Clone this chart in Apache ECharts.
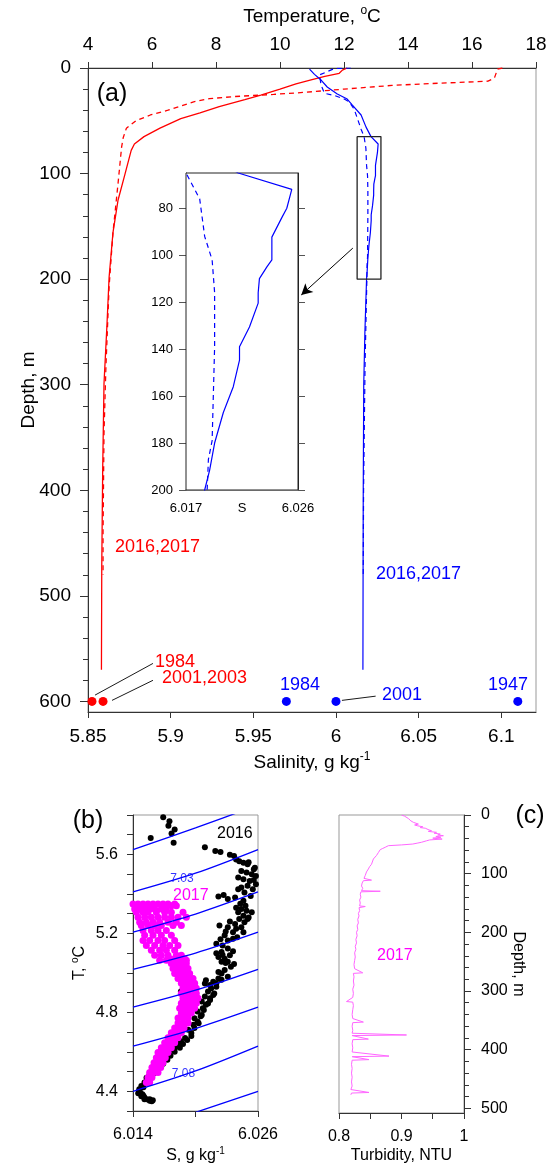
<!DOCTYPE html>
<html><head><meta charset="utf-8">
<script src="https://cdn.jsdelivr.net/npm/echarts@6/dist/echarts.min.js"></script>
<style>html,body{margin:0;padding:0;background:#fff}#c{width:551px;height:1165px}</style>
</head><body><div id="c"></div>
<script>
// ================= DATA =================
// Tick / label values
const tempTicks = [4,6,8,10,12,14,16,18];
const salTicks = [5.85,5.9,5.95,6,6.05,6.1];
const depthMajorA = [0,100,200,300,400,500,600];
const depthMinorA = [0,20,40,60,80,100,120,140,160,180,200,220,240,260,280,300,320,340,360,380,400,420,440,460,480,500,520,540,560,580,600];
const insetDepthTicks = [80,100,120,140,160,180,200];
const insetSLabels = [6.017,6.026];
const tsSTicks = [6.014,6.02,6.026];
const tsSLabels = [6.014,6.026];
const tsTTicks = [4.3,4.4,4.5,4.6,4.7,4.8,4.9,5.0,5.1,5.2,5.3,5.4,5.5,5.6,5.7,5.8];
const tsTLabels = [4.4,4.8,5.2,5.6];
const turbTicks = [0.8,0.85,0.9,0.95,1];
const turbLabels = [0.8,0.9,1];
const depthMajorC = [0,100,200,300,400,500];
const depthMinorC = [0,20,40,60,80,100,120,140,160,180,200,220,240,260,280,300,320,340,360,380,400,420,440,460,480,500];

// Panel (a): temperature profiles [T, depth]
const tempSolid = [[12.1,0],[11.95,2],[11.85,5],[11.4,8],[11.0,11],[10.5,15],[10.0,20],[9.4,25.6],[8.9,30],[8.1,36.5],[7.5,42.6],[6.9,48],[6.25,57],[5.75,65],[5.45,72],[5.35,78],[5.16,100],[4.94,125],[4.78,156],[4.66,198],[4.59,245],[4.5,299],[4.46,378],[4.43,473],[4.42,570]];
const tempDashed = [[16.95,0],[16.8,1],[16.7,9.5],[16.5,12.5],[14.5,15],[13.5,16.5],[12.0,20],[10.8,23],[9.8,25],[8.6,27],[7.8,29],[7.3,32],[6.9,36],[6.5,40],[5.95,44.5],[5.5,50],[5.2,57],[5.1,66],[5.05,75],[4.94,109],[4.78,156],[4.66,207],[4.56,283],[4.5,346],[4.47,441],[4.47,480]];
// Panel (a): salinity profiles [S, depth]
const salSolid = [[5.984,1],[5.987,6],[5.991,11.4],[5.9947,18],[6.0008,24.6],[6.0068,29.4],[6.0098,35],[6.0152,44.5],[6.0182,56],[6.0212,65],[6.0255,72],[6.0251,80],[6.0247,84],[6.0239,92.3],[6.0239,102],[6.0235,105],[6.0229,110],[6.0228,116],[6.0228,120.4],[6.0221,130.6],[6.0213,139],[6.0213,144.7],[6.0208,156],[6.0200,167],[6.0193,180],[6.0189,191.5],[6.0185,200],[6.0175,250],[6.0168,300],[6.0165,400],[6.0164,480],[6.0163,570]];
const salDashed = [[6.009,0],[5.999,0.5],[5.99,6.6],[5.991,16],[5.993,24],[5.999,26],[6.005,29.4],[6.008,32],[6.011,39],[6.013,48],[6.0152,58],[6.017,65],[6.0181,76],[6.0185,92],[6.0191,102],[6.0193,116],[6.0193,139],[6.0192,159],[6.0191,179],[6.0188,187],[6.0187,200],[6.0176,280],[6.0167,400],[6.0165,480]];
// Historical values at 600 m
const tempHist = [[4.125,600],[4.47,600]];
const salHist = [[5.97,600],[6.0,600],[6.11,600]];
// Inset window (S range, depth range)
const insetBox = [[6.0128,65],[6.0272,65],[6.0272,200],[6.0128,200],[6.0128,65]];

// Panel (b): isopycnals [label, [[S,T],...]]
const isoLines = [
 ['7.02',[[6.014,5.625],[6.020,5.735],[6.026,5.85]]],
 ['7.03',[[6.014,5.41],[6.020,5.505],[6.026,5.625]]],
 ['7.04',[[6.014,5.206],[6.020,5.298],[6.026,5.41]]],
 ['7.05',[[6.014,5.018],[6.020,5.10],[6.026,5.206]]],
 ['7.06',[[6.014,4.826],[6.020,4.912],[6.026,5.018]]],
 ['7.07',[[6.014,4.629],[6.020,4.718],[6.026,4.826]]],
 ['7.08',[[6.014,4.40],[6.020,4.503],[6.026,4.629]]],
 ['7.09',[[6.020,4.293],[6.026,4.40]]]
];
const isoLabels = [['7.03',6.0187,5.479],['7.08',6.01885,4.489]];

// Panel (b): T-S points 2016 [S, T]
const ts2016 = [
[6.0169,5.789],[6.0175,5.768],[6.0174,5.746],[6.0180,5.726],[6.0177,5.706],[6.0157,5.684],[6.0179,5.659],
[6.0209,5.637],[6.0219,5.617],[6.0224,5.612],[6.0233,5.598],[6.0237,5.592],[6.0239,5.575],[6.0242,5.566],[6.0246,5.558],[6.0250,5.550],[6.0251,5.560],[6.0257,5.533],[6.0256,5.525],[6.0244,5.516],[6.0249,5.508],[6.0254,5.500],[6.0258,5.491],[6.0241,5.483],[6.0246,5.474],[6.0256,5.470],[6.0252,5.466],[6.0258,5.449],[6.0250,5.441],[6.0244,5.432],[6.0255,5.424],[6.0241,5.424],[6.0247,5.407],[6.0253,5.390],[6.0227,5.394],[6.0222,5.387],[6.0238,5.382],[6.0231,5.374],[6.0246,5.365],[6.0243,5.350],[6.0248,5.340],[6.0239,5.330],[6.0244,5.324],[6.0249,5.315],[6.0241,5.307],[6.0254,5.307],[6.0246,5.290],[6.0251,5.280],[6.0242,5.273],[6.0250,5.273],[6.0233,5.260],[6.0247,5.257],[6.0238,5.248],[6.0223,5.240],[6.0244,5.231],[6.0231,5.231],[6.0239,5.223],[6.0229,5.210],[6.0246,5.206],[6.0236,5.206],[6.0228,5.190],[6.0240,5.180],[6.0236,5.173],[6.0224,5.170],[6.0231,5.164],[6.0220,5.148],[6.0226,5.139],[6.0231,5.123],[6.0236,5.110],[6.0225,5.106],[6.0220,5.100],[6.0226,5.090],[6.0233,5.089],[6.0222,5.081],[6.0228,5.072],[6.0225,5.056],[6.0229,5.050],
[6.0231,5.056],[6.0234,5.031],[6.0237,5.045],[6.0228,5.014],[6.0225,4.997],[6.0222,5.005],[6.0231,4.980],[6.0222,4.972],[6.0225,4.965],[6.0210,4.963],[6.0217,4.955],[6.0214,4.938],[6.0220,4.946],[6.0209,4.946],[6.0220,4.930],[6.0215,4.921],[6.0212,4.905],[6.0186,4.905],[6.0218,4.895],[6.0217,4.888],[6.0209,4.880],[6.0214,4.872],[6.0214,4.863],[6.0206,4.855],[6.0212,4.845],[6.0210,4.838],[6.0207,4.821],[6.0208,4.812],[6.0202,4.804],[6.0206,4.787],[6.0205,4.780],[6.0199,4.770],[6.0202,4.754],[6.0203,4.745],[6.0198,4.737],[6.0199,4.720],[6.0193,4.712],[6.0196,4.695],[6.0196,4.680],[6.0190,4.670],[6.0192,4.660],[6.0186,4.653],[6.0188,4.640],[6.0183,4.636],[6.0185,4.620],[6.0180,4.619],[6.0177,4.611],[6.0180,4.600],[6.0167,4.603],[6.0174,4.594],[6.0176,4.580],[6.0170,4.569],[6.0173,4.560],[6.0167,4.553],[6.0169,4.540],[6.0164,4.536],[6.0166,4.525],[6.0161,4.519],[6.0163,4.505],[6.0159,4.502],[6.0160,4.490],[6.0156,4.486],[6.0157,4.472],[6.0153,4.469],[6.0155,4.455],[6.0151,4.444],[6.0152,4.440],[6.0148,4.427],[6.0150,4.420],[6.0146,4.410],[6.0146,4.400],[6.0147,4.394],[6.0145,4.390],[6.0149,4.385],[6.0148,4.375],[6.0150,4.377],[6.0151,4.369],[6.0153,4.360],[6.0151,4.360],[6.0156,4.360],[6.0156,4.352],[6.0158,4.350],[6.0159,4.355]
];
// Panel (b): T-S points 2017, rows of [T, [S...]]
const ts2017Rows = [
 [5.349,[6.01400,6.01448,6.01496,6.01544,6.01592,6.01640,6.01688,6.01736,6.01800]],
 [5.340,[6.01768,6.01816]],
 [5.324,[6.01416,6.01464,6.01512,6.01560,6.01608,6.01672,6.01720]],
 [5.307,[6.01432,6.01496,6.01544,6.01624,6.01704,6.01768,6.01880]],
 [5.282,[6.01448,6.01512,6.01576,6.01640,6.01704,6.01768,6.01832,6.01912]],
 [5.257,[6.01464,6.01528,6.01592,6.01656,6.01736,6.01816]],
 [5.240,[6.01480,6.01544,6.01608,6.01672,6.01784,6.01864]],
 [5.215,[6.01496,6.01576,6.01640,6.01720]],
 [5.190,[6.01512,6.01592,6.01672,6.01768]],
 [5.164,[6.01496,6.01560,6.01640,6.01704,6.01800]],
 [5.139,[6.01528,6.01608,6.01688,6.01752,6.01832]],
 [5.114,[6.01576,6.01656,6.01720,6.01800]],
 [5.089,[6.01608,6.01672,6.01736,6.01816,6.01864]],
 [5.064,[6.01656,6.01720,6.01784,6.01848,6.01912]],
 [5.072,[6.01752,6.01800,6.01848,6.01896]],
 [5.047,[6.01768,6.01816,6.01864,6.01912]],
 [5.022,[6.01784,6.01832,6.01880,6.01928]],
 [4.997,[6.01800,6.01848,6.01896,6.01944]],
 [4.972,[6.01832,6.01880,6.01928,6.01976]],
 [4.947,[6.01864,6.01912,6.01960,6.01992]],
 [4.922,[6.01880,6.01928,6.01976,6.02008]],
 [4.896,[6.01864,6.01912,6.01960,6.02008]],
 [4.871,[6.01880,6.01928,6.01976,6.02024]],
 [4.846,[6.01864,6.01912,6.01960,6.02008]],
 [4.821,[6.01848,6.01896,6.01944,6.01992]],
 [4.796,[6.01864,6.01912,6.01960]],
 [4.771,[6.01832,6.01880,6.01928]],
 [4.746,[6.01832,6.01880,6.01928]],
 [4.721,[6.01800,6.01848,6.01890]],
 [4.696,[6.01768,6.01816,6.01864]],
 [4.671,[6.01736,6.01784,6.01832]],
 [4.646,[6.01704,6.01752,6.01800]],
 [4.621,[6.01672,6.01720,6.01768]],
 [4.596,[6.01640,6.01688,6.01736]],
 [4.570,[6.01624,6.01672,6.01710]],
 [4.545,[6.01602,6.01646,6.01688]],
 [4.520,[6.01582,6.01624,6.01666]],
 [4.495,[6.01560,6.01602,6.01640]],
 [4.470,[6.01544,6.01582]],
 [4.445,[6.01528,6.01560]]
];

// Panel (c): turbidity profile 2017 [NTU, depth]
const turb2017 = [[0.900,0],[0.897,1],[0.905,2],[0.903,4],[0.911,6],[0.908,8],[0.915,10],[0.912,11],[0.919,12.5],[0.916,14],[0.927,15.5],[0.921,17],[0.926,18.5],[0.934,20],[0.930,21.5],[0.938,22.5],[0.935,24],[0.944,25.5],[0.948,26.7],[0.943,28],[0.956,29.5],[0.952,31],[0.962,32.5],[0.958,34],[0.967,35.3],[0.955,36.5],[0.963,38],[0.950,39.5],[0.965,41],[0.945,42.5],[0.940,44],[0.932,46.5],[0.925,48],[0.918,49.5],[0.900,51],[0.879,52.3],[0.874,55],[0.870,57],[0.866,59],[0.868,61],[0.863,64],[0.864,66],[0.860,69],[0.861,71],[0.855,75],[0.857,78],[0.852,84],[0.849,88],[0.847,92],[0.844,97],[0.842,103],[0.840,108],[0.852,111],[0.839,112],[0.837,116],[0.836,121],[0.838,125],[0.836,129],[0.866,130],[0.835,131],[0.834,135],[0.835,140],[0.833,145],[0.834,150],[0.833,155],[0.842,156],[0.832,158],[0.833,163],[0.831,168],[0.832,172],[0.830,178],[0.831,184],[0.829,189],[0.830,195],[0.828,200],[0.829,206],[0.827,212],[0.828,218],[0.826,224],[0.827,229],[0.825,235],[0.826,242],[0.825,248],[0.824,255],[0.825,262],[0.838,269],[0.823,270],[0.824,276],[0.823,283],[0.824,290],[0.822,297],[0.823,304],[0.822,311],[0.812,318],[0.822,319],[0.823,325],[0.822,332],[0.821,340],[0.822,347],[0.839,353],[0.822,354],[0.821,360],[0.822,367],[0.821,372],[0.908,375],[0.821,376],[0.847,382],[0.822,383],[0.821,390],[0.822,397],[0.821,404],[0.880,411],[0.821,412],[0.848,417],[0.821,418],[0.820,425],[0.821,432],[0.820,440],[0.821,447],[0.820,455],[0.821,462],[0.819,468],[0.848,473],[0.820,474],[0.819,477]];

// ================= CHART =================
const FONT = '"Liberation Sans", Arial, Helvetica, sans-serif';
const AX = '#333';
const RED = '#ff0000', BLUE = '#0000ff', MAG = '#ff00ff';

const ts2017 = [];
ts2017Rows.forEach(r => r[1].forEach(s => ts2017.push([s, r[0]])));

function supRich(size, supSize){
  return { n:{fontSize:size, lineHeight:size+4, color:'#000', fontFamily:FONT},
           sup:{fontSize:supSize, lineHeight:size+4, verticalAlign:'top', color:'#000', fontFamily:FONT} };
}
function vAxis(o){
  return Object.assign({
    type:'value', splitLine:{show:false}, nameMoveOverlap:false,
    axisLine:{show:true, onZero:false, lineStyle:{color:AX, width:1}},
  }, o);
}

const chart = echarts.init(document.getElementById('c'), null, {renderer:'canvas'});

const option = {
  animation:false,
  backgroundColor:'#fff',
  textStyle:{fontFamily:FONT},
  grid:[
    {left:88, top:68, width:448, height:644, show:true, borderColor:'#999', borderWidth:1, backgroundColor:'rgba(0,0,0,0)'},
    {left:186, top:173, width:112, height:317, show:true, borderColor:'#222', borderWidth:1, backgroundColor:'#fff', z:5},
    {left:133, top:815, width:125, height:299, show:true, borderColor:'#999', borderWidth:1},
    {left:339, top:815, width:125, height:299, show:true, borderColor:'#999', borderWidth:1}
  ],
  xAxis:[
    vAxis({gridIndex:0, position:'top', min:4, max:18,
      name:'{n|Temperature, }{sup|o}{n|C}', nameLocation:'middle', nameGap:40,
      nameTextStyle:{rich:supRich(19,12)},
      axisTick:{show:true, length:6, customValues:tempTicks, lineStyle:{color:AX}},
      axisLabel:{fontSize:19, margin:14, color:'#000', customValues:tempTicks}}),
    vAxis({gridIndex:0, position:'bottom', min:5.85, max:6.121,
      name:'{n|Salinity, g kg}{sup|-1}', nameLocation:'middle', nameGap:39,
      nameTextStyle:{rich:supRich(19,12)},
      axisTick:{show:true, length:6, customValues:salTicks, lineStyle:{color:AX}},
      axisLabel:{fontSize:19, margin:15, color:'#000', customValues:salTicks}}),
    vAxis({gridIndex:1, position:'bottom', min:6.017, max:6.026,
      name:'S', nameLocation:'middle', nameGap:12, nameTextStyle:{fontSize:13, color:'#000'},
      axisLine:{show:true, onZero:false, lineStyle:{color:'#999', width:1.5}},
      axisTick:{show:false},
      axisLabel:{fontSize:13, margin:12, color:'#000', customValues:insetSLabels}}),
    vAxis({gridIndex:2, position:'bottom', min:6.014, max:6.026,
      name:'{n|S, g kg}{sup|-1}', nameLocation:'middle', nameGap:35,
      nameTextStyle:{rich:supRich(16,10)},
      axisTick:{show:true, length:6, customValues:tsSTicks, lineStyle:{color:AX}},
      axisLabel:{fontSize:16, margin:16, color:'#000', customValues:tsSLabels}}),
    vAxis({gridIndex:3, position:'bottom', min:0.8, max:1,
      name:'Turbidity, NTU', nameLocation:'middle', nameGap:35, nameTextStyle:{fontSize:16, color:'#000'},
      axisTick:{show:true, length:6, customValues:turbTicks, lineStyle:{color:AX}},
      axisLabel:{fontSize:16, margin:16, color:'#000', customValues:turbLabels}})
  ],
  yAxis:[
    vAxis({gridIndex:0, position:'left', inverse:true, min:0, max:610,
      name:'Depth, m', nameLocation:'middle', nameGap:50, nameRotate:90,
      nameTextStyle:{fontSize:19, color:'#000'},
      axisTick:{show:true, length:8, customValues:depthMajorA, lineStyle:{color:AX}},
      axisLabel:{fontSize:19, margin:17, color:'#000', customValues:depthMajorA}}),
    vAxis({gridIndex:0, position:'left', inverse:true, min:0, max:610,
      axisLine:{show:false},
      axisTick:{show:true, length:5, customValues:depthMinorA, lineStyle:{color:AX}},
      axisLabel:{show:false}}),
    vAxis({gridIndex:1, position:'left', inverse:true, min:65, max:200,
      axisLine:{show:true, onZero:false, lineStyle:{color:'#222'}},
      axisTick:{show:true, length:7, customValues:insetDepthTicks, lineStyle:{color:'#555'}},
      axisLabel:{fontSize:13, margin:13, color:'#000', customValues:insetDepthTicks}}),
    vAxis({gridIndex:1, position:'right', inverse:true, min:65, max:200,
      axisLine:{show:true, onZero:false, lineStyle:{color:'#222'}},
      axisTick:{show:true, length:7, customValues:insetDepthTicks, lineStyle:{color:'#555'}},
      axisLabel:{show:false}}),
    vAxis({gridIndex:2, position:'left', min:4.3, max:5.8,
      name:'{n|T, }{sup|o}{n|C}', nameLocation:'middle', nameGap:43, nameRotate:90,
      nameTextStyle:{rich:supRich(16,10)},
      axisTick:{show:true, length:6, customValues:tsTTicks, lineStyle:{color:AX}},
      axisLabel:{fontSize:16, margin:15, color:'#000', customValues:tsTLabels}}),
    vAxis({gridIndex:3, position:'right', inverse:true, min:0, max:508,
      name:'Depth, m', nameLocation:'middle', nameGap:46, nameRotate:-90,
      nameTextStyle:{fontSize:16, color:'#000'},
      axisTick:{show:true, length:7, customValues:depthMajorC, lineStyle:{color:AX}},
      axisLabel:{fontSize:16, margin:17, color:'#000', customValues:depthMajorC}}),
    vAxis({gridIndex:3, position:'right', inverse:true, min:0, max:508,
      axisLine:{show:false},
      axisTick:{show:true, length:5, customValues:depthMinorC, lineStyle:{color:AX}},
      axisLabel:{show:false}})
  ],
  series:[]
};

const S = option.series;
const lineBase = {type:'line', symbol:'none', silent:true, clip:true};
// (a) main profiles
S.push(Object.assign({}, lineBase, {xAxisIndex:0, yAxisIndex:0, data:tempSolid, lineStyle:{color:RED, width:1.3}}));
S.push(Object.assign({}, lineBase, {xAxisIndex:0, yAxisIndex:0, data:tempDashed, lineStyle:{color:RED, width:1.3, type:[5,4]}}));
S.push(Object.assign({}, lineBase, {xAxisIndex:1, yAxisIndex:0, data:salSolid, lineStyle:{color:BLUE, width:1.2}}));
S.push(Object.assign({}, lineBase, {xAxisIndex:1, yAxisIndex:0, data:salDashed, lineStyle:{color:BLUE, width:1.2, type:[5,4]},
  markLine:{silent:true, symbol:['none','arrow'], symbolSize:[9,11], label:{show:false}, lineStyle:{color:'#000', width:1, type:'solid'},
    data:[[{coord:[6.0102,170.6]},{coord:[5.979,215]}]]}}));
// inset window rectangle
S.push(Object.assign({}, lineBase, {xAxisIndex:1, yAxisIndex:0, data:insetBox, lineStyle:{color:'#222', width:1.3}}));
// historical points
S.push({type:'scatter', xAxisIndex:0, yAxisIndex:0, data:tempHist, symbolSize:9, itemStyle:{color:RED, opacity:1}, silent:true, clip:false,
  markLine:{silent:true, symbol:['none','none'], label:{show:false}, lineStyle:{color:'#000', width:0.9, type:'solid'},
    data:[[{coord:[4.22,594]},{coord:[6.03,564]}],[{coord:[4.75,599]},{coord:[6.03,580]}]]}});
S.push({type:'scatter', xAxisIndex:1, yAxisIndex:0, data:salHist, symbolSize:9, itemStyle:{color:BLUE, opacity:1}, silent:true, clip:false,
  markLine:{silent:true, symbol:['none','none'], label:{show:false}, lineStyle:{color:'#000', width:0.9, type:'solid'},
    data:[[{coord:[6.0036,599]},{coord:[6.024,595]}]]}});
// inset profiles
S.push(Object.assign({}, lineBase, {xAxisIndex:2, yAxisIndex:2, data:salSolid, z:6, lineStyle:{color:BLUE, width:1.2}}));
S.push(Object.assign({}, lineBase, {xAxisIndex:2, yAxisIndex:2, data:salDashed, z:6, lineStyle:{color:BLUE, width:1.2, type:[5,4]}}));
// (b) isopycnals
isoLines.forEach(l => S.push(Object.assign({}, lineBase, {xAxisIndex:3, yAxisIndex:4, data:l[1], smooth:0.3, lineStyle:{color:BLUE, width:1.3}})));
S.push({type:'scatter', xAxisIndex:3, yAxisIndex:4, data:ts2016, symbolSize:6, itemStyle:{color:'#000', opacity:1}, silent:true});
S.push({type:'scatter', xAxisIndex:3, yAxisIndex:4, data:ts2017, symbolSize:7, itemStyle:{color:MAG, opacity:1}, silent:true});
S.push({type:'scatter', xAxisIndex:3, yAxisIndex:4, silent:true, symbolSize:0,
  data:isoLabels.map(l => ({value:[l[1], l[2]], name:l[0]})),
  label:{show:true, position:'inside', formatter:'{b}', color:BLUE, fontSize:12, fontFamily:FONT, backgroundColor:'#fff', padding:[1,1]}});
// (c) turbidity
S.push(Object.assign({}, lineBase, {xAxisIndex:4, yAxisIndex:5, data:turb2017, lineStyle:{color:'#ff66ff', width:1}}));

function txt(t, x, y, color, size, align){
  return {type:'text', silent:true, z:100, style:{text:t, x:x, y:y, fill:color, fontSize:size, fontFamily:FONT, align:align||'left', verticalAlign:'middle'}};
}
option.graphic = [
  txt('(a)', 112, 94, '#000', 25, 'center'),
  txt('(b)', 88, 821, '#000', 25, 'center'),
  txt('(c)', 530, 816, '#000', 25, 'center'),
  txt('2016,2017', 115, 547, RED, 18),
  txt('2016,2017', 376, 574, BLUE, 18),
  txt('1984', 155, 662, RED, 18),
  txt('2001,2003', 162, 678, RED, 18),
  txt('1984', 280, 685, BLUE, 18),
  txt('2001', 382, 695, BLUE, 18),
  txt('1947', 488, 685, BLUE, 18),
  txt('2016', 217, 834, '#000', 16),
  txt('2017', 173, 896, MAG, 16),
  txt('2017', 377, 956, MAG, 16)
];

chart.setOption(option);
</script></body></html>
